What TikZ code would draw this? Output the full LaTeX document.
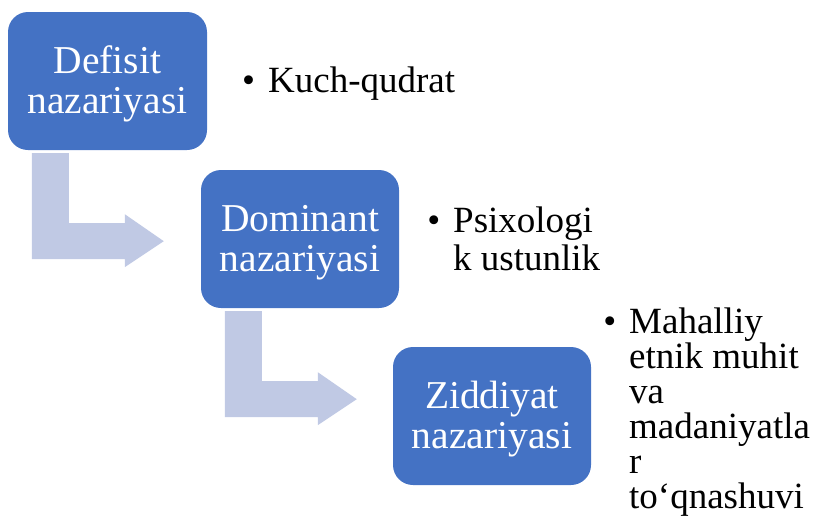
\documentclass[tikz,border=0pt]{standalone}
\usepackage{fontspec}
\setmainfont{Liberation Serif}
\usetikzlibrary{calc}
\definecolor{boxblue}{HTML}{4472C4}
\definecolor{arrowblue}{HTML}{C0C9E4}
\newcommand\bentarrow[1]{%
  \fill[arrowblue] ($(#1.south west)+(24,3)$) -- ++(37,0) -- ++(0,70) -- ++(56,0)
    -- ++(0,-9) -- ++(39,27) -- ++(-39,26) -- ++(0,-8) -- ++(-93,0) -- cycle;}
\tikzset{
  procbox/.style={rectangle, rounded corners=20pt, fill=boxblue, text=white,
    minimum width=198pt, minimum height=138pt, align=center, inner sep=0pt,
    font=\fontsize{39.5}{40}\selectfont},
  bul/.style={anchor=base west, inner sep=0pt, text=black,
    font=\fontsize{37}{35.5}\selectfont}
}
\newcommand\bdot{\llap{\textbullet\hspace{13pt}}}
\newcommand\topstrut{\rule{0pt}{33pt}}
\begin{document}
\begin{tikzpicture}[x=1pt,y=-1pt]
  \useasboundingbox (0,0) rectangle (814,531);
  \node[procbox, minimum width=199pt] (d) at (107.5,81) {\topstrut Defisit\\nazariyasi};
  \node[procbox] (m) at (300,239) {\topstrut Dominant\\nazariyasi};
  \node[procbox] (z) at (492,416) {\topstrut Ziddiyat\\nazariyasi};
  \bentarrow{d}
  \bentarrow{m}
  \node[bul] (k1) at (268,92) {\bdot Kuch-qudrat};
  \node[bul] (p1) at (453,232) {\bdot Psixologi};
  \node[bul] (p2) at (453,270) {k ustunlik};
  \node[bul] (h1) at (629,333) {\bdot Mahalliy};
  \node[bul] (h2) at (629,368) {etnik muhit};
  \node[bul] (h3) at (629,403) {va};
  \node[bul] (h4) at (629,438) {madaniyatla};
  \node[bul] (h5) at (629,473) {r};
  \node[bul] (h6) at (629,508) {to‘qnashuvi};
\end{tikzpicture}
\end{document}
